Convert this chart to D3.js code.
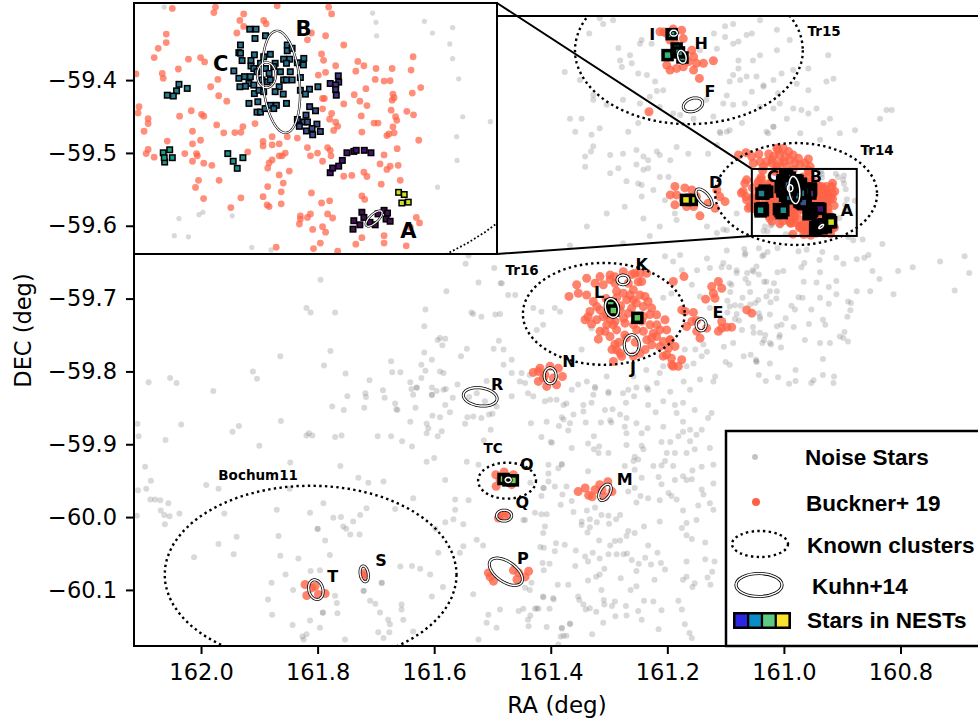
<!DOCTYPE html>
<html><head><meta charset="utf-8">
<style>html,body{margin:0;padding:0;background:#fff}svg{display:block}text{font-family:"DejaVu Sans",sans-serif}</style>
<script src="https://cdn.jsdelivr.net/npm/d3@7"></script></head><body>
<script>
const xTicks=[162.0,161.8,161.6,161.4,161.2,161.0,160.8];
const yTicks=[-59.4,-59.5,-59.6,-59.7,-59.8,-59.9,-60.0,-60.1];
const noiseStars=[
[161.795,-59.674],[161.819,-59.713],[161.812,-59.719],[161.77,-59.719],[161.615,-59.715],[161.617,-59.738],[161.579,-59.69],[161.546,-59.652],[161.541,-59.641],[161.497,-59.658],[161.524,-59.678],[161.486,-59.679],[161.536,-59.719],[161.533,-59.721],[161.519,-59.725],[161.495,-59.722],[161.487,-59.721],[161.594,-59.757],[161.59,-59.754],[161.581,-59.755],[161.586,-59.764],[161.489,-59.758],[161.498,-59.769],[161.544,-59.769],[161.554,-59.779],[161.617,-59.774],[161.604,-59.784],[161.674,-59.786],[161.622,-59.791],[161.615,-59.799],[161.672,-59.801],[161.658,-59.801],[161.59,-59.8],[161.584,-59.802],[161.622,-59.809],[161.711,-59.812],[161.752,-59.803],[161.789,-59.792],[161.778,-59.772],[161.864,-59.779],[161.911,-59.8],[161.904,-59.81],[162.053,-59.809],[162.042,-59.816],[162.09,-59.815],[161.979,-59.827],[161.641,-59.815],[161.63,-59.822],[161.63,-59.8225],[161.639,-59.824],[161.636,-59.832],[161.688,-59.826],[161.718,-59.83],[161.717,-59.835],[161.749,-59.834],[161.685,-59.836],[161.604,-59.822],[161.604,-59.832],[161.604,-59.8325],[161.596,-59.827],[161.584,-59.825],[161.58,-59.824],[161.56,-59.818],[161.568,-59.836],[161.581,-59.846],[161.573,-59.856],[161.632,-59.85],[161.667,-59.844],[161.665,-59.852],[161.663,-59.853],[161.72,-59.85],[161.755,-59.853],[161.775,-59.848],[161.603,-59.861],[161.59,-59.863],[161.543,-59.863],[161.533,-59.862],[161.519,-59.864],[161.506,-59.859],[161.5,-59.858],[161.493,-59.848],[161.51,-59.813],[161.527,-59.83],[161.54,-59.835],[161.513,-59.841],[161.641,-59.869],[161.613,-59.872],[161.61,-59.878],[161.613,-59.885],[161.587,-59.882],[161.594,-59.889],[161.547,-59.872],[161.503,-59.88],[161.515,-59.895],[161.863,-59.868],[162.034,-59.873],[162.109,-59.872],[162.107,-59.889],[162.061,-59.894],[161.946,-59.883],[161.935,-59.875],[161.815,-59.885],[161.819,-59.888],[161.809,-59.888],[161.77,-59.89],[161.759,-59.888],[161.697,-59.889],[161.674,-59.889],[161.655,-59.896],
[162.096,-59.931],[162.086,-59.95],[162.108,-59.963],[162.094,-59.961],[162.087,-59.976],[162.079,-59.976],[162.07,-59.977],[162.056,-59.981],[162.069,-59.991],[162.063,-59.997],[162.054,-59.999],[162.037,-59.995],[162.062,-60.01],[162.11,-59.998],[161.96,-59.995],[161.97,-59.961],[161.991,-59.956],[161.9,-59.902],[161.847,-59.925],[161.848,-59.961],[161.87,-59.99],[161.939,-60.027],[161.97,-60.037],[161.944,-60.051],[162.012,-60.055],[161.867,-60.026],[161.864,-60.053],[161.813,-59.994],[161.79,-59.981],[161.773,-60.001],[161.76,-60.0],[161.8,-60.016],[161.8,-60.0165],[161.751,-60.016],[161.787,-60.032],[161.744,-60.024],[161.728,-60.024],[161.779,-60.052],[161.833,-60.057],[161.812,-60.074],[161.796,-60.073],[161.855,-60.079],[161.879,-60.09],[161.842,-60.1],[161.885,-60.113],[161.878,-60.134],[161.843,-60.148],[161.813,-60.142],[161.796,-60.152],[161.791,-60.131],[161.791,-60.1315],[161.77,-60.108],[161.767,-60.118],[161.766,-60.132],[161.826,-60.164],[161.819,-60.161],[161.824,-60.168],[161.753,-60.168],[161.721,-60.101],[161.721,-60.1015],[161.69,-60.09],[161.69,-60.0905],[161.71,-60.115],[161.701,-60.119],[161.693,-60.131],[161.679,-60.141],[161.676,-60.147],[161.696,-60.158],[161.687,-60.166],[161.677,-60.158],[161.656,-60.12],[161.656,-60.127],[161.653,-60.141],[161.636,-60.157],[161.658,-60.068],[161.638,-60.067],[161.624,-60.071],[161.607,-60.079],[161.585,-60.096],[161.604,-60.109],[161.761,-59.93],[161.73,-59.946],[161.713,-59.953],[161.687,-59.951],[161.638,-59.903],[161.613,-59.924],[161.6,-59.919],[161.581,-59.949],[161.544,-59.924],[161.524,-59.928],[161.398,-59.898],[161.381,-59.927],[161.404,-59.928],[161.564,-59.976],[161.541,-59.977],[161.564,-59.99],[161.567,-60.003],[161.55,-60.01],[161.581,-60.007],[161.598,-60.016],[161.636,-59.974],[161.667,-59.989],[161.716,-59.988],[161.727,-59.997],[161.739,-60.006],[161.756,-60.013],[161.527,-60.031],[161.516,-60.039],[161.55,-60.04],[161.593,-60.049],[161.556,-60.049],[161.533,-60.106],[161.507,-60.134],[161.493,-60.152],[161.51,-60.145],[161.524,-60.168],[161.487,-60.127],[161.455,-60.129],[161.424,-60.125],[161.413,-60.109],[161.395,-60.113],[161.367,-60.147],[161.381,-60.152],[161.378,-60.163],[161.438,-60.15],[161.444,-60.097],[161.447,-60.004],[161.435,-59.953],[161.413,-59.96],
[161.439,-59.83],[161.41,-59.841],[161.401,-59.839],[161.39,-59.839],[161.378,-59.846],[161.373,-59.844],[161.344,-59.846],[161.33,-59.843],[161.344,-59.855],[161.361,-59.859],[161.381,-59.863],[161.378,-59.866],[161.367,-59.871],[161.386,-59.875],[161.407,-59.869],[161.434,-59.871],[161.37,-59.881],[161.34,-59.87],[161.314,-59.87],[161.298,-59.867],[161.307,-59.853],[161.294,-59.852],[161.281,-59.859],[161.271,-59.843],[161.257,-59.834],[161.253,-59.822],[161.235,-59.822],[161.301,-59.83],[161.324,-59.823],[161.276,-59.83],[161.253,-59.871],[161.27,-59.864],[161.233,-59.846],[161.22,-59.856],[161.207,-59.841],[161.184,-59.857],[161.187,-59.846],[161.173,-59.843],[161.153,-59.853],[161.124,-59.857],[161.13,-59.864],[161.141,-59.88],[161.173,-59.869],[161.161,-59.88],[161.207,-59.876],[161.244,-59.885],[161.234,-59.878],[161.273,-59.876],[161.27,-59.885],[161.27,-59.901],[161.296,-59.87],[161.416,-59.89],[161.4,-59.897],[161.364,-59.905],[161.336,-59.899],[161.326,-59.889],[161.317,-59.903],[161.326,-59.907],[161.318,-59.912],[161.301,-59.912],[161.241,-59.907],[161.244,-59.902],[161.21,-59.897],[161.195,-59.897],[161.181,-59.889],[161.173,-59.883],[161.161,-59.896],[161.153,-59.907],[161.127,-59.905],[161.15,-59.887],[161.201,-59.912],[161.187,-59.912],[161.256,-59.917],[161.25,-59.921],[161.258,-59.923],[161.224,-59.93],[161.21,-59.929],[161.204,-59.923],[161.19,-59.93],[161.167,-59.912],[161.141,-59.931],[161.121,-59.928],[161.157,-59.936],[161.273,-59.93],[161.256,-59.935],[161.336,-59.937],[161.381,-59.928],[161.387,-59.933],[161.404,-59.94],[161.404,-59.951],[161.393,-59.958],[161.373,-59.958],[161.38,-59.969],[161.412,-59.96],[161.416,-59.971],[161.364,-59.978],[161.383,-59.983],[161.361,-59.993],[161.338,-59.991],[161.324,-59.987],[161.313,-59.997],[161.301,-59.998],[161.281,-59.997],[161.416,-59.996],[161.407,-59.996],[161.427,-59.994],[161.444,-60.004],[161.41,-60.013],[161.413,-60.022],[161.347,-60.006],[161.347,-60.011],[161.333,-60.003],[161.321,-60.007],[161.3,-60.009],[161.333,-60.014],[161.337,-60.021],[161.288,-60.003],[161.267,-59.965],[161.256,-59.96],[161.246,-59.971],[161.233,-59.974],[161.253,-59.98],[161.244,-59.946],[161.215,-59.945],[161.21,-59.955],[161.213,-59.977],[161.198,-59.967],[161.193,-59.971],[161.184,-59.976],[161.173,-59.991],[161.187,-59.949],[161.173,-59.944],[161.158,-59.948],[161.167,-59.949],[161.147,-59.984],[161.141,-59.962],[161.138,-59.969],[161.121,-59.954],[161.127,-59.981],[161.121,-59.99],[161.213,-60.006],[161.24,-60.013],[161.256,-60.022],[161.267,-60.019],[161.27,-60.026],[161.175,-60.015],[161.167,-60.008],[161.15,-60.004],[161.167,-60.025],[161.158,-60.03],[161.135,-60.035],[161.233,-60.039],[161.281,-60.032],[161.29,-60.033],[161.298,-60.039],[161.317,-60.032],[161.391,-60.036],[161.376,-60.038],[161.418,-60.041],[161.412,-60.042],[161.393,-60.047],[161.357,-60.046],[161.328,-60.049],[161.341,-60.054],[161.336,-60.061],[161.316,-60.057],[161.301,-60.051],[161.287,-60.051],[161.275,-60.051],[161.269,-60.05],[161.261,-60.059],[161.249,-60.064],[161.238,-60.056],[161.228,-60.065],[161.217,-60.049],[161.211,-60.063],[161.204,-60.072],[161.253,-60.074],[161.308,-60.071],[161.316,-60.079],[161.322,-60.082],[161.336,-60.087],[161.358,-60.067],[161.28,-60.084],[161.222,-60.086],[161.253,-60.095],[161.263,-60.1],[161.313,-60.1],[161.37,-60.093],[161.388,-60.093],[161.167,-60.061],[161.135,-60.058],[161.119,-60.061],[161.123,-60.075],[161.131,-60.083],[161.167,-60.082],[161.173,-60.086],[161.153,-60.091],[161.157,-60.096],[161.126,-60.093],[161.414,-60.063],[161.402,-60.064],[161.412,-60.073],[161.433,-60.09],[161.436,-60.1],[161.396,-60.111],[161.413,-60.11],[161.353,-60.109],[161.351,-60.114],[161.344,-60.12],[161.333,-60.125],[161.34,-60.127],[161.322,-60.13],[161.309,-60.114],[161.308,-60.12],[161.29,-60.116],[161.295,-60.122],[161.271,-60.122],[161.25,-60.129],[161.24,-60.115],[161.224,-60.116],[161.21,-60.128],[161.181,-60.115],[161.175,-60.127],[161.289,-60.136],[161.27,-60.135],[161.244,-60.141],[161.31,-60.145],[161.17,-60.147],[161.215,-60.154],[161.162,-60.159],[161.158,-60.166],[161.367,-60.146],[161.381,-60.153],[161.407,-60.151],[161.329,-60.161],[161.373,-60.163],[161.383,-60.164],[161.447,-60.126],[161.427,-60.126],[161.421,-60.126],[161.402,-60.126],[161.435,-60.135],[161.439,-60.141],[161.387,-60.175],
[161.098,-59.634],[161.068,-59.632],[161.066,-59.638],[161.043,-59.631],[161.037,-59.642],[161.028,-59.636],[161.011,-59.631],[160.975,-59.635],[160.961,-59.633],[160.934,-59.636],[160.91,-59.644],[160.939,-59.647],[160.965,-59.651],[160.97,-59.657],[160.898,-59.652],[160.875,-59.646],[160.862,-59.644],[160.855,-59.64],[160.831,-59.625],[160.865,-59.619],[160.881,-59.62],[160.848,-59.662],[160.804,-59.662],[160.779,-59.657],[160.732,-59.649],[160.69,-59.642],[160.682,-59.665],[160.707,-59.689],[160.812,-59.694],[160.836,-59.673],[160.852,-59.69],[160.875,-59.69],[160.91,-59.676],[160.91,-59.694],[160.923,-59.684],[160.944,-59.678],[160.966,-59.677],[160.938,-59.664],[161.001,-59.662],[161.011,-59.664],[161.017,-59.679],[161.034,-59.677],[161.043,-59.667],[161.047,-59.656],[161.054,-59.661],[161.063,-59.665],[161.066,-59.673],[161.081,-59.665],[161.094,-59.657],[161.107,-59.657],[161.09,-59.681],[161.092,-59.691],[161.058,-59.691],[161.071,-59.699],[161.03,-59.697],[161.013,-59.7],[161.023,-59.705],[160.975,-59.698],[160.968,-59.699],[160.938,-59.699],[160.923,-59.707],[160.89,-59.704],[160.885,-59.706],[160.886,-59.716],[160.891,-59.725],[160.987,-59.71],[160.981,-59.715],[160.953,-59.715],[160.997,-59.727],[161.004,-59.736],[160.983,-59.739],[160.957,-59.735],[160.933,-59.729],[160.929,-59.736],[160.896,-59.746],[160.904,-59.752],[160.898,-59.754],[160.89,-59.759],[160.921,-59.761],[160.938,-59.761],[160.964,-59.757],[161.007,-59.75],[161.008,-59.753],[161.034,-59.757],[161.037,-59.761],[161.022,-59.763],[161.005,-59.767],[161.041,-59.747],[161.053,-59.739],[161.041,-59.728],[161.043,-59.72],[161.049,-59.706],[161.058,-59.708],[161.074,-59.71],[161.084,-59.709],[161.097,-59.703],[161.081,-59.721],[161.097,-59.719],[161.084,-59.728],[161.077,-59.73],[161.087,-59.761],[161.103,-59.766],[161.1,-59.787],[161.057,-59.777],[161.048,-59.784],[161.047,-59.787],[160.933,-59.783],[161.043,-59.805],[161.031,-59.813],[161.01,-59.808],[160.98,-59.798],[160.98,-59.813],[160.991,-59.817],[160.949,-59.812],[160.953,-59.816],[160.933,-59.805],[160.914,-59.807],[160.915,-59.816],
[161.316,-59.315],[161.293,-59.318],[161.31,-59.323],[161.334,-59.336],[161.284,-59.356],[161.247,-59.35],[161.244,-59.345],[161.264,-59.366],[161.281,-59.373],[161.278,-59.382],[161.235,-59.393],[161.25,-59.391],[161.221,-59.402],[161.218,-59.415],[161.207,-59.414],[161.261,-59.377],[161.227,-59.35],[161.144,-59.359],[161.12,-59.336],[161.101,-59.326],[161.087,-59.323],[161.101,-59.341],[161.087,-59.35],[161.115,-59.357],[161.064,-59.338],[161.055,-59.336],[161.078,-59.347],[161.041,-59.318],[161.012,-59.331],[160.99,-59.345],[161.012,-59.359],[161.041,-59.366],[161.053,-59.373],[161.078,-59.373],[161.078,-59.384],[161.087,-59.393],[161.064,-59.395],[161.093,-59.402],[161.075,-59.4],[161.047,-59.395],[161.035,-59.407],[161.018,-59.4],[161.004,-59.391],[160.984,-59.386],[160.958,-59.384],[160.924,-59.366],[160.915,-59.398],[160.927,-59.402],[160.958,-59.414],[160.978,-59.405],[161.01,-59.418],[161.035,-59.409],[161.055,-59.416],[161.098,-59.421],[161.133,-59.427],[161.104,-59.432],[161.087,-59.434],[161.067,-59.432],[161.041,-59.437],[161.018,-59.439],[161.007,-59.432],[160.984,-59.439],[160.97,-59.441],[160.944,-59.439],[160.958,-59.446],[160.995,-59.453],[161.018,-59.464],[161.03,-59.471],[161.072,-59.459],[161.093,-59.469],[161.11,-59.471],[161.121,-59.45],[161.155,-59.453],[161.178,-59.448],[161.19,-59.446],[161.213,-59.437],[161.23,-59.423],[161.247,-59.432],[161.276,-59.427],[161.304,-59.434],[161.327,-59.427],[161.327,-59.42],[161.35,-59.4],[161.376,-59.389],[161.367,-59.453],[161.347,-59.453],[161.358,-59.471],[161.33,-59.475],[161.316,-59.466],[161.25,-59.459],[161.267,-59.471],[161.327,-59.491],[161.341,-59.505],[161.331,-59.498],[161.298,-59.503],[161.276,-59.501],[161.253,-59.496],[161.241,-59.505],[161.233,-59.51],[161.233,-59.521],[161.241,-59.523],[161.253,-59.516],[161.244,-59.544],[161.25,-59.542],[161.298,-59.528],[161.284,-59.521],[161.27,-59.539],[161.244,-59.56],[161.218,-59.498],[161.213,-59.503],[161.195,-59.51],[161.184,-59.492],[161.164,-59.501],[161.13,-59.501],[161.115,-59.489],[161.109,-59.473],[161.098,-59.471],[161.027,-59.473],[161.018,-59.464],[160.938,-59.482],[160.921,-59.453],[160.824,-59.441],[160.815,-59.441],[160.835,-59.453],[160.878,-59.469],[160.904,-59.473],[160.932,-59.459],[160.972,-59.473],[160.852,-59.496],[160.818,-59.498],[161.273,-59.574],[161.341,-59.519],[161.224,-59.551],[161.213,-59.533],[161.198,-59.533],[161.204,-59.565],[161.187,-59.583],[161.241,-59.59],[161.213,-59.601],[161.304,-59.583],[161.338,-59.601],[161.367,-59.627],[161.276,-59.624],[161.23,-59.614],[161.184,-59.592],[161.115,-59.61],[161.132,-59.601],[161.098,-59.606],[161.081,-59.583],[161.104,-59.605],
[161.461,-59.695],[161.473,-59.695],[161.484,-59.679],[161.43,-59.713],[161.416,-59.718],[161.393,-59.713],[161.384,-59.718],[161.424,-59.743],[161.413,-59.736],[161.33,-59.741],[161.347,-59.77],[161.204,-59.642],[161.178,-59.64],[161.19,-59.649],[161.175,-59.661],[161.132,-59.645],[161.127,-59.658],[161.104,-59.651],[161.081,-59.661],[161.067,-59.64],[161.035,-59.64],[161.03,-59.677],[161.052,-59.663],[161.061,-59.679],[161.093,-59.679],[161.149,-59.661],[161.158,-59.681],[161.193,-59.693],[161.207,-59.699],[161.144,-59.697],[161.127,-59.713],[161.093,-59.711],[161.044,-59.702],[161.024,-59.69],[161.012,-59.69],[161.041,-59.725],[161.024,-59.722],[161.072,-59.743],[161.052,-59.747],[161.032,-59.75],[161.012,-59.738],[161.024,-59.761],[161.138,-59.763],[161.152,-59.77],[161.132,-59.773],[161.141,-59.779],[161.17,-59.77],[161.167,-59.793],[161.155,-59.789],[161.118,-59.807],[161.093,-59.791],[161.069,-59.779],[161.047,-59.786],[161.024,-59.789],[161.121,-59.814],[161.144,-59.811],[161.172,-59.814],[161.161,-59.825],[161.207,-59.793],[161.213,-59.802],[161.236,-59.798],[161.258,-59.807],[161.304,-59.807],[161.324,-59.821],[161.338,-59.814],[161.353,-59.818],[161.364,-59.825],[161.436,-59.805],[161.45,-59.802],[161.467,-59.802],[161.481,-59.791],[161.453,-59.814],[161.444,-59.816],[161.43,-59.834],[161.467,-59.834],[161.481,-59.77],[161.467,-59.784],[161.327,-59.832],[161.301,-59.828],[161.218,-59.816],[161.233,-59.825],[161.195,-59.828],[161.267,-59.825],
[161.04,-59.5235],[160.9367,-59.5257],[160.935,-59.5291],[160.9347,-59.534],[160.911,-59.5287],[160.907,-59.533],[160.897,-59.531],[160.8984,-59.537],[160.897,-59.5424],[160.894,-59.5498],[160.892,-59.5637],[160.8783,-59.5655],[160.895,-59.571],[160.8948,-59.5797],[160.9045,-59.5895],[161.0327,-59.601],[161.0228,-59.5996],[161.0208,-59.5987],[161.0063,-59.6],[161.035,-59.6073],[161.028,-59.6077],[160.9966,-59.6116],[160.987,-59.6125],[160.8895,-59.6153]
];
const bucknerStars=[
[161.036,-59.524],[161.0146,-59.5235],[161.0154,-59.5255],[160.984,-59.523],[160.9585,-59.5235],[160.957,-59.526],[161.0006,-59.526],[161.0025,-59.5284],[161.0006,-59.5306],[161.004,-59.533],[160.9907,-59.5284],[160.9895,-59.5296],[161.039,-59.5334],[161.039,-59.5365],[161.043,-59.5386],[161.045,-59.542],[161.028,-59.5426],[161.022,-59.542],[161.02,-59.5436],[161.033,-59.5462],[161.041,-59.5478],[161.0405,-59.5496],[161.054,-59.548],[161.017,-59.5527],[161.0134,-59.55],[161.013,-59.556],[161.009,-59.558],[161.0525,-59.56],[161.053,-59.5623],[161.048,-59.5644],[161.048,-59.5662],[161.0324,-59.5635],[161.0266,-59.5615],[161.0215,-59.5628],[161.0204,-59.5635],[161.014,-59.5667],[161.0105,-59.5696],[161.005,-59.5695],[161.002,-59.5694],[161.001,-59.5673],[160.995,-59.5662],[161.026,-59.569],[161.022,-59.5723],[161.026,-59.5736],[161.0385,-59.5726],[161.048,-59.5757],[161.049,-59.5772],[161.045,-59.5785],[161.0298,-59.5772],[161.024,-59.5772],[161.0236,-59.578],[161.026,-59.58],[161.0204,-59.5807],[161.0164,-59.5815],[160.9986,-59.5766],[161.0128,-59.587],[161.023,-59.587],[161.0245,-59.5896],[161.0205,-59.5937],[161.002,-59.5934],[161.007,-59.597],[160.991,-59.5727],[160.991,-59.5744],[160.9865,-59.571],[160.9865,-59.574],[160.983,-59.5736],[160.979,-59.571],[160.974,-59.5715],[160.969,-59.575],[160.98,-59.577],[160.9816,-59.578],[160.983,-59.578],[160.9865,-59.5795],[160.988,-59.5806],[160.9887,-59.5825],[160.978,-59.5836],[160.983,-59.585],[160.981,-59.588],[160.9887,-59.5893],[160.982,-59.5912],[160.991,-59.593],[160.989,-59.596],[160.988,-59.5966],[160.982,-59.5956],[160.967,-59.5916],[160.962,-59.5953],[160.958,-59.5945],[160.9725,-59.6],[160.9675,-59.5993],[160.969,-59.6006],[160.9725,-59.6012],[160.973,-59.603],[160.9664,-59.605],[160.959,-59.5993],[160.9565,-59.6008],[160.9615,-59.604],[160.96,-59.606],[160.9626,-59.61],[160.966,-59.612],[160.9845,-59.6115],[160.954,-59.613],[160.945,-59.6104],[160.942,-59.608],[160.931,-59.6073],[160.931,-59.61],[160.92,-59.611],[160.942,-59.5927],[160.9406,-59.594],[160.9324,-59.5884],[160.923,-59.587],[160.915,-59.6006],[160.9134,-59.6026],[160.918,-59.6042],[160.9675,-59.578],[160.964,-59.577],[160.959,-59.575],[160.9577,-59.576],[160.9573,-59.578],[160.9615,-59.58],[160.951,-59.5855],[160.947,-59.5852],[160.941,-59.584],[160.9395,-59.5856],[160.933,-59.581],[160.931,-59.5777],[160.9296,-59.583],[160.928,-59.5818],[160.924,-59.5815],[160.9245,-59.5754],[160.9138,-59.5723],[160.9296,-59.5706],[160.9286,-59.57],[160.926,-59.5696],[160.9266,-59.5674],[160.9247,-59.565],[160.9253,-59.5637],[160.9164,-59.563],[160.9197,-59.5617],[160.9275,-59.5613],[160.926,-59.5567],[160.9266,-59.5554],[160.917,-59.555],[160.9128,-59.553],[160.9176,-59.5466],[160.927,-59.546],[160.9166,-59.5417],[160.935,-59.546],[160.9354,-59.55],[160.931,-59.5506],[160.928,-59.5505],[160.94,-59.5534],[160.944,-59.5434],[160.941,-59.545],[160.945,-59.547],[160.951,-59.5374],[160.96,-59.534],[160.967,-59.533],[160.969,-59.5355],[160.962,-59.5407],[160.961,-59.543],[160.955,-59.545],[160.96,-59.5474],[160.9636,-59.5484],[160.9458,-59.5556],[160.943,-59.558],[160.9395,-59.5596],[160.951,-59.559],[160.9615,-59.557],[160.9606,-59.557],[160.9615,-59.5608],[160.957,-59.5625],[160.958,-59.5646],[160.955,-59.5657],[160.954,-59.5672],[160.956,-59.5687],[160.942,-59.5693],[160.936,-59.566],[160.934,-59.566],[160.9423,-59.5634],[160.927,-59.5576],
[161.078,-59.5028],[161.065,-59.4996],[161.043,-59.5014],[161.026,-59.5014],[161.041,-59.512],[161.0525,-59.5142],[161.012,-59.4937],[161.007,-59.5028],[160.992,-59.4982],[161.012,-59.5188],[160.99,-59.5097],[160.975,-59.5074],[160.958,-59.5083],[160.972,-59.5165],[161.007,-59.5142],[161.035,-59.5188],[160.955,-59.5188],[161.0,-59.512],[161.02,-59.51],[161.0553,-59.505],[161.03,-59.512],[161.018,-59.505],[161.021,-59.514],[160.998,-59.505],[160.984,-59.503],[160.981,-59.514],[160.995,-59.519],[160.964,-59.514],[161.01,-59.496],[161.001,-59.494],
[161.067,-59.5417],[161.07,-59.553],[161.064,-59.5645],[161.058,-59.5736],[161.065,-59.56],[161.064,-59.537],[161.073,-59.555],[161.061,-59.576],[161.05,-59.569],
[161.187,-59.546],[161.195,-59.5576],[161.187,-59.5713],[161.158,-59.5508],[161.172,-59.5645],[161.15,-59.56],[161.144,-59.5864],[161.115,-59.5508],[161.11,-59.56],[161.101,-59.5668],[161.118,-59.576],[161.184,-59.5576],[161.167,-59.5736],[161.13,-59.569],[161.155,-59.5736],[161.17,-59.548],
[161.2126,-59.3337],[161.201,-59.336],[161.1954,-59.345],[161.1754,-59.3314],[161.1726,-59.343],[161.187,-59.3497],[161.158,-59.359],[161.155,-59.368],[161.201,-59.3794],[161.1954,-59.3863],[161.184,-59.384],[161.15,-59.377],[161.138,-59.377],[161.121,-59.3735],[161.155,-59.3863],[161.1726,-59.3817],[161.164,-59.3748],[161.145,-59.3977],[161.2315,-59.4434],[161.206,-59.334],[161.19,-59.33],
[161.3384,-59.672],[161.3155,-59.6698],[161.2983,-59.6675],[161.2755,-59.663],[161.2555,-59.6652],[161.244,-59.6766],[161.2354,-59.6652],[161.3098,-59.681],[161.2898,-59.679],[161.2755,-59.6926],[161.2583,-59.688],[161.3555,-59.681],[161.3687,-59.697],[161.3527,-59.6926],[161.3384,-59.695],[161.327,-59.704],[161.3155,-59.7155],[161.3412,-59.729],[161.3212,-59.729],[161.3327,-59.7177],[161.2583,-59.7018],[161.2383,-59.697],[161.2411,-59.711],[161.2268,-59.713],[161.2183,-59.7223],[161.204,-59.729],[161.2297,-59.736],[161.2411,-59.745],[161.2125,-59.743],[161.2183,-59.752],[161.2068,-59.759],[161.1954,-59.7566],[161.1868,-59.7657],[161.2011,-59.777],[161.1925,-59.791],[161.1753,-59.784],[161.1811,-59.793],[161.2898,-59.7315],[161.304,-59.736],[161.3155,-59.745],[161.2983,-59.752],[161.3184,-59.7557],[161.287,-59.743],[161.2726,-59.7337],[161.287,-59.7703],[161.2926,-59.7863],[161.2783,-59.7794],[161.2469,-59.775],[161.2354,-59.7566],[161.2268,-59.7635],[161.1897,-59.6766],[161.1714,-59.6698],[161.2612,-59.713],[161.2697,-59.7018],[161.224,-59.7475],[161.2011,-59.743],[161.304,-59.7223],[161.2411,-59.7246],[161.2526,-59.743],[161.283,-59.76],[161.27,-59.754],[161.33,-59.735],[161.305,-59.7],[161.28,-59.71],[161.255,-59.76],
[161.287,-59.69],[161.267,-59.679],[161.25,-59.677],[161.298,-59.674],[161.264,-59.695],[161.247,-59.695],[161.301,-59.709],[161.321,-59.711],[161.336,-59.725],[161.31,-59.725],[161.275,-59.727],[161.281,-59.716],[161.267,-59.72],[161.258,-59.736],[161.273,-59.75],[161.29,-59.763],[161.307,-59.745],[161.293,-59.736],[161.244,-59.731],[161.23,-59.722],[161.218,-59.736],[161.227,-59.754],[161.238,-59.77],[161.258,-59.779],[161.281,-59.775],[161.295,-59.77],[161.213,-59.766],[161.198,-59.768],[161.207,-59.779],[161.193,-59.782],[161.19,-59.793],[161.195,-59.757],[161.324,-59.679],[161.29,-59.67],[161.261,-59.667],[161.247,-59.665],[161.253,-59.706],[161.233,-59.704],[161.287,-59.699],[161.298,-59.729],
[161.1753,-59.7155],[161.1696,-59.7177],[161.1553,-59.719],[161.158,-59.7315],[161.1668,-59.7383],[161.1496,-59.745],[161.1439,-59.7543],[161.1325,-59.7406],[161.121,-59.6926],[161.1124,-59.6766],[161.1239,-59.6835],[161.1067,-59.6858],[161.1342,-59.7008],[161.1182,-59.6995],[161.0638,-59.7155],[161.055,-59.72],[161.1067,-59.7315],[161.1124,-59.745],[161.1067,-59.7406],[161.0896,-59.7392],[161.098,-59.7392],[161.15,-59.73],
[161.43,-59.8014],[161.4213,-59.8],[161.4185,-59.7955],[161.4127,-59.809],[161.4213,-59.8137],[161.407,-59.8206],[161.39,-59.8183],[161.38,-59.807],[161.387,-59.7955],[161.4013,-59.793],[161.41,-59.8046],[161.3956,-59.809],
[161.4943,-59.9418],[161.4937,-59.9578],[161.48,-59.9381],[161.464,-59.9418],[161.467,-59.9555],[161.487,-59.9486],
[161.4897,-60.0012],[161.481,-59.998],[161.4726,-59.9966],[161.487,-59.9966],
[161.507,-60.0766],[161.4983,-60.088],[161.504,-60.0821],[161.464,-60.073],[161.455,-60.0766],[161.444,-60.0821],[161.438,-60.0743],[161.458,-60.0857],
[161.353,-59.965],[161.341,-59.96],[161.329,-59.972],[161.316,-59.9555],[161.302,-59.9514],[161.295,-59.965],[161.324,-59.9624],[161.307,-59.972],[161.335,-59.97],[161.312,-59.963],
[161.8215,-60.0926],[161.8186,-60.1077],[161.81,-60.0972],[161.7986,-60.1063],[161.787,-60.105],[161.8043,-60.095],[161.72,-60.0775],[161.7214,-60.081]
];
const nestPalette=["#440f54","#d0e11c","#43136b","#463480","#3b518b","#2a6e8e","#277f8e","#1f9a8a","#228d8d","#35b779","#21a685","#5ec962","#bddf26","#7ad151","#e5e419"];
const nestMembers=[
[[160.942,-59.5987],[160.946,-59.6018],[160.9464,-59.6049],[160.943,-59.6033],[160.941,-59.6006],[160.938,-59.6024],[160.9354,-59.6033],[160.931,-59.598],[160.9293,-59.599],[160.93,-59.6012],[160.928,-59.602],[160.934,-59.5993]],
[[160.9238,-59.5914],[160.921,-59.5922],[160.9222,-59.5953],[160.919,-59.595]],
[[160.9577,-59.5842],[160.9565,-59.5825],[160.9535,-59.5818],[160.9517,-59.5797],[160.9494,-59.5769],[160.946,-59.5764],[160.9448,-59.576],[160.9408,-59.576],[160.9375,-59.5769]],
[[160.9537,-59.5487],[160.9535,-59.551],[160.9577,-59.5515],[160.955,-59.552],[160.955,-59.5537],[160.9547,-59.5558]],
[[160.9679,-59.56],[160.965,-59.5615],[160.9697,-59.5631],[160.974,-59.5647],[160.9708,-59.5656],[160.973,-59.5672],[160.969,-59.5656],[160.9643,-59.5664],[160.9695,-59.5689],[160.9664,-59.5703],[160.9626,-59.5691],[160.9667,-59.568]],
[[160.9976,-59.5316],[160.9945,-59.5316],[160.995,-59.535],[160.9898,-59.534],[161.0022,-59.5374],[161.003,-59.5402],[161.0022,-59.5404],[161.0014,-59.5431],[160.9953,-59.541],[160.997,-59.5431],[160.997,-59.5451],[160.9956,-59.546],[160.9874,-59.5408],[160.9907,-59.5417],[160.979,-59.5374],[160.979,-59.5395],[160.9766,-59.5386],[160.9808,-59.5426],[160.9778,-59.5426],[160.9708,-59.5423],[160.974,-59.5439],[160.971,-59.5447],[161.0055,-59.5469],[161.003,-59.5496],[161.0002,-59.549],[160.9973,-59.549],[161.0025,-59.5527],[160.998,-59.5515],[160.9997,-59.5525],[160.9956,-59.5521],[160.9898,-59.546],[160.985,-59.5441],[160.988,-59.5478],[160.9857,-59.5453],[160.9824,-59.5472],[160.9794,-59.5441],[160.9775,-59.5472],[160.9808,-59.5502],[160.9794,-59.5502],[160.9766,-59.5502],[160.9725,-59.5493],[160.983,-59.5527],[160.985,-59.5545],[160.981,-59.5554],[160.9953,-59.5552],[160.993,-59.554],[160.9907,-59.5545],[160.9725,-59.554],[160.968,-59.5536],[160.9638,-59.5527],[160.97,-59.5554],[160.998,-59.5588],[160.9936,-59.5582],[160.9874,-59.5595],[160.9844,-59.5595],[160.9857,-59.5607],[160.9794,-59.5588],[160.994,-59.562],[160.9923,-59.562],[160.99,-59.5607],[160.989,-59.5509],[160.9874,-59.5502],[160.9915,-59.5502],[160.994,-59.5472],[160.9923,-59.5441]],
[[161.0327,-59.5518],[161.0286,-59.5533],[161.0339,-59.5542],[161.0355,-59.5561],[161.0385,-59.5558]],
[[161.0373,-59.5758],[161.0405,-59.5769],[161.036,-59.5787],[161.0398,-59.5803],[161.04,-59.5787]],
[[161.0085,-59.5772],[161.0058,-59.58],[161.0038,-59.5826],[161.001,-59.5787]],
[[161.1996,-59.3657]],
[[161.184,-59.3566],[161.174,-59.369],[161.1926,-59.3369],[161.18,-59.362]],
[[161.2972,-59.7086],[161.2926,-59.7164],[161.2514,-59.7264]],
[[161.158,-59.5645]],
[[161.481,-59.9477],[161.4726,-59.9496],[161.465,-59.9496]],
[[161.168,-59.5645]]
];
const kuhnClusters=[
[160.936,-59.601,.005,.002,-40],[160.982,-59.5509,.0235,.0091,84],[160.9893,-59.5484,.0058,.0046,90],[161.137,-59.562,.0189,.0089,50],[161.142,-59.736,.0103,.0086,90],[161.156,-59.434,.0172,.0111,-20],[161.175,-59.368,.0111,.0069,75],[161.189,-59.3355,.006,.0051,0],[161.261,-59.7635,.0172,.0129,90],[161.276,-59.6743,.0103,.0082,0],[161.295,-59.7128,.0163,.0111,75],[161.307,-59.966,.0154,.0086,-60],[161.401,-59.806,.0137,.0103,90],[161.473,-59.949,.0051,.0043,0],[161.477,-60.075,.0326,.0172,35],[161.48,-59.998,.0129,.0094,0],[161.521,-59.835,.0292,.0154,8],[161.72,-60.078,.0137,.0069,80],[161.803,-60.0996,.0172,.012,75]
];
const insetKuhn=[0,1,2];
const knownClusters=[[161.163,-59.359,.1955,.1269,0],[160.979,-59.5564,.1389,.0875,0],[161.309,-59.721,.1389,.0875,0],[161.475,-59.95,.0497,.0309,0],[161.812,-60.079,.2504,.1526,0]];
const clusterLetters=[["I",161.226,-59.345],["H",161.142,-59.357],["F",161.127,-59.423],["D",161.117,-59.548],["C",161.019,-59.54],["B",160.945,-59.54],["A",160.892,-59.587],["K",161.244,-59.661],["L",161.317,-59.699],["J",161.259,-59.803],["E",161.113,-59.726],["N",161.369,-59.794],["R",161.492,-59.825],["O",161.441,-59.936],["Q",161.449,-59.987],["P",161.448,-60.064],["T",161.774,-60.089],["S",161.691,-60.067],["M",161.273,-59.956]];
const clusterNames=[["Tr15",160.931,-59.34],["Tr14",160.84,-59.503],["Tr16",161.449,-59.667],["TC",161.499,-59.912],["Bochum11",161.902,-59.949]];
const insetLetters=[["B",160.971,-59.534],["C",161.012,-59.547],["A",160.919,-59.608]];
const legendLabels=["Noise Stars","Buckner+ 19","Known clusters","Kuhn+14","Stars in NESTs"];
const legendNest=["#2b27e0","#0a8cc4","#5dcb83","#f9e231"];

const W=978,H=722;
const ax={l:134,r:978,t:16,b:646},ins={l:134,r:497,t:3,b:254};
const xMain=d3.scaleLinear().domain([162.115,160.667]).range([ax.l,ax.r]);
const yMain=d3.scaleLinear().domain([-59.312,-60.177]).range([ax.t,ax.b]);
const xIns=d3.scaleLinear().domain([161.055,160.875]).range([ins.l,ins.r]);
const yIns=d3.scaleLinear().domain([-59.522,-59.614]).range([ins.t,ins.b]);
const box={ra0:161.055,ra1:160.875,d0:-59.522,d1:-59.614};
const svg=d3.select("body").append("svg").attr("width",W).attr("height",H);
const defs=svg.append("defs");
defs.append("clipPath").attr("id","cm").append("rect").attr("x",ax.l).attr("y",ax.t).attr("width",ax.r-ax.l).attr("height",ax.b-ax.t);
defs.append("clipPath").attr("id","ci").append("rect").attr("x",ins.l).attr("y",ins.t).attr("width",ins.r-ins.l).attr("height",ins.b-ins.t);
const ellipsePath=(e,x,y)=>{
  const th=e[4]*Math.PI/180,ts=d3.range(0,73).map(i=>i/72*2*Math.PI);
  return d3.line().x(t=>x(e[0]-(e[2]*Math.cos(th)*Math.cos(t)-e[3]*Math.sin(th)*Math.sin(t))))
    .y(t=>y(e[1]-0.8*(e[2]*Math.sin(th)*Math.cos(t)+e[3]*Math.cos(th)*Math.sin(t))))(ts)+"Z";
};
function panel(g,x,y,o){
  g.append("g").selectAll("circle").data(noiseStars).join("circle").attr("cx",d=>x(d[0])).attr("cy",d=>y(d[1])).attr("r",o.nr).attr("fill","#808080").attr("fill-opacity",.3);
  g.append("g").selectAll("circle").data(bucknerStars).join("circle").attr("cx",d=>x(d[0])).attr("cy",d=>y(d[1])).attr("r",o.br).attr("fill","#ff6347").attr("fill-opacity",o.ba);
  g.append("g").selectAll("path").data(knownClusters).join("path").attr("d",e=>ellipsePath(e,x,y)).attr("fill","none").attr("stroke","#000").attr("stroke-width",o.dw).attr("stroke-dasharray",o.dd);
  nestMembers.forEach((m,i)=>{
    g.append("g").selectAll("rect").data(m).join("rect").attr("x",d=>x(d[0])-o.ss/2).attr("y",d=>y(d[1])-o.ss/2).attr("width",o.ss).attr("height",o.ss)
     .attr("fill",nestPalette[i]).attr("stroke","#000").attr("stroke-width",o.sw);
  });
  const ks=o.kuhn?o.kuhn.map(i=>kuhnClusters[i]):kuhnClusters;
  const kg=g.append("g");
  kg.selectAll("path.a").data(ks).join("path").attr("class","a").attr("d",e=>ellipsePath(e,x,y)).attr("fill","none").attr("stroke","#000").attr("stroke-width",o.kw);
  kg.selectAll("path.b").data(ks).join("path").attr("class","b").attr("d",e=>ellipsePath(e,x,y)).attr("fill","none").attr("stroke","#fff").attr("stroke-width",o.kw*.5);
}
const m=svg.append("g").attr("clip-path","url(#cm)");
panel(m,xMain,yMain,{nr:3,br:4.5,ba:.8,dw:2.4,dd:"2.4 3.3",ss:9,sw:3.5,kw:3});
m.append("g").selectAll("text").data(clusterLetters).join("text").attr("x",d=>xMain(d[1])).attr("y",d=>yMain(d[2])).attr("text-anchor","middle").attr("font-weight","bold").attr("font-size",16).text(d=>d[0]);
m.append("g").selectAll("text").data(clusterNames).join("text").attr("x",d=>xMain(d[1])).attr("y",d=>yMain(d[2])).attr("text-anchor","middle").attr("font-weight","bold").attr("font-size",13.5).text(d=>d[0]);

const xa=svg.append("g").attr("transform",`translate(0,${ax.b})`).call(d3.axisBottom(xMain).tickValues(xTicks).tickFormat(d3.format(".1f")).tickSize(8).tickPadding(10));
const ya=svg.append("g").attr("transform",`translate(${ax.l},0)`).call(d3.axisLeft(yMain).tickValues(yTicks).tickFormat(d3.format(".1f")).tickSize(8).tickPadding(9));
[xa,ya].forEach(a=>{a.selectAll("text").attr("font-size",22.5).attr("font-family","DejaVu Sans").attr("fill","#000");a.selectAll("line").attr("stroke-width",2).attr("stroke","#000");a.select(".domain").remove();});
svg.append("text").attr("x",557).attr("y",713).attr("text-anchor","middle").attr("font-size",23).text("RA (deg)");
svg.append("text").attr("transform","translate(30.5,330.5) rotate(-90)").attr("text-anchor","middle").attr("font-size",22.5).text("DEC (deg)");
// spines
svg.append("path").attr("d",`M${ins.r},${ax.t}H${ax.r}M${ax.l},${ax.t}V${ax.b}H${ax.r}`).attr("fill","none").attr("stroke","#000").attr("stroke-width",2);
// inset indicator
const zb={x0:xMain(box.ra0),x1:xMain(box.ra1),y0:yMain(box.d0),y1:yMain(box.d1)};
svg.append("rect").attr("x",zb.x0).attr("y",zb.y0).attr("width",zb.x1-zb.x0).attr("height",zb.y1-zb.y0).attr("fill","none").attr("stroke","#000").attr("stroke-width",2);
svg.append("path").attr("d",`M${ins.r},${ins.t}L${zb.x0},${zb.y0}M${ins.r},${ins.b}L${zb.x0},${zb.y1}`).attr("stroke","#000").attr("stroke-width",2).attr("fill","none");
// inset
svg.append("rect").attr("x",ins.l).attr("y",ins.t).attr("width",ins.r-ins.l).attr("height",ins.b-ins.t).attr("fill","#fff");
const g2=svg.append("g").attr("clip-path","url(#ci)");
panel(g2,xIns,yIns,{nr:2.6,br:3.4,ba:.72,dw:1.8,dd:"1.8 2.2",ss:5.5,sw:1.5,kw:2.4,kuhn:insetKuhn});
g2.append("g").selectAll("text").data(insetLetters).join("text").attr("x",d=>xIns(d[1])).attr("y",d=>yIns(d[2])).attr("text-anchor","middle").attr("font-weight","bold").attr("font-size",21).text(d=>d[0]);
svg.append("rect").attr("x",ins.l).attr("y",ins.t).attr("width",ins.r-ins.l).attr("height",ins.b-ins.t).attr("fill","none").attr("stroke","#000").attr("stroke-width",2);
// legend
const lg=svg.append("g");
lg.append("rect").attr("x",726).attr("y",431).attr("width",270).attr("height",215).attr("fill","#fff").attr("stroke","#000").attr("stroke-width",2.5);
lg.append("circle").attr("cx",755).attr("cy",457).attr("r",3).attr("fill","#c4c4c4");
lg.append("circle").attr("cx",756).attr("cy",502).attr("r",4).attr("fill","#ff6347");
lg.append("ellipse").attr("cx",760).attr("cy",544).attr("rx",28).attr("ry",13).attr("fill","none").attr("stroke","#000").attr("stroke-width",2.4).attr("stroke-dasharray","2.4 3.3");
lg.append("ellipse").attr("cx",759).attr("cy",585).attr("rx",23).attr("ry",11.5).attr("fill","none").attr("stroke","#000").attr("stroke-width",3.2);
lg.append("ellipse").attr("cx",759).attr("cy",585).attr("rx",23).attr("ry",11.5).attr("fill","none").attr("stroke","#fff").attr("stroke-width",1.5);
lg.append("rect").attr("x",733).attr("y",612).attr("width",58).attr("height",17).attr("fill","#000");
legendNest.forEach((c,i)=>lg.append("rect").attr("x",735.5+i*13.8).attr("y",614.5).attr("width",11.5).attr("height",12).attr("fill",c));
const legendX=[805,806,807,812,807],legendY=[465,511,553,594,628];
lg.selectAll("text").data(legendLabels).join("text").attr("x",(d,i)=>legendX[i]).attr("y",(d,i)=>legendY[i]).attr("font-weight","bold").attr("font-size",22.5).attr("style",'font-family:"Liberation Sans"').text(d=>d);
</script></body></html>
